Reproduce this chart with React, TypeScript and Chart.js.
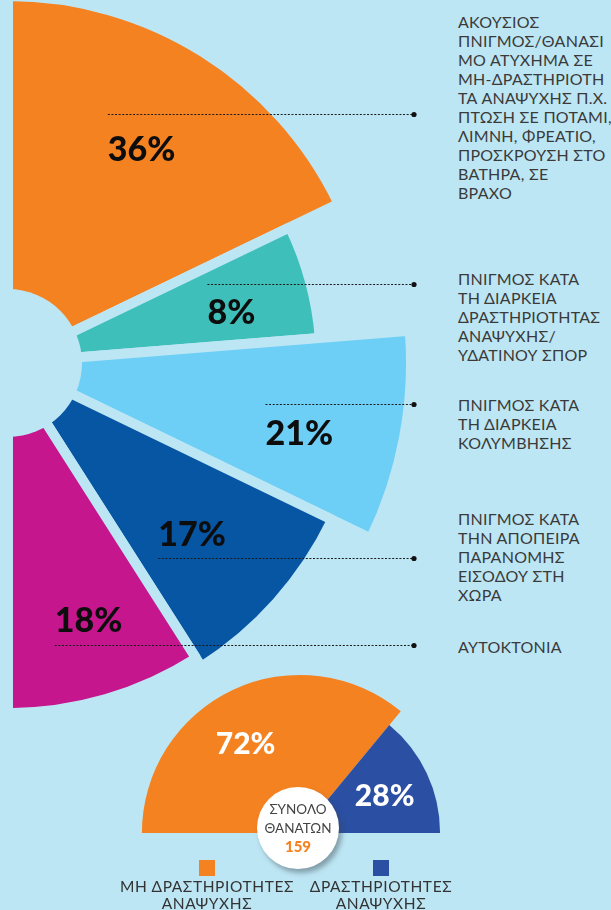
import React, { useEffect, useRef } from 'react';
import { Chart, registerables } from 'chart.js';

Chart.register(...registerables);

// ---------- data ----------
const causeNames: string[][] = [
  ['ΑΚΟΥΣΙΟΣ', 'ΠΝΙΓΜΟΣ/ΘΑΝΑΣΙ', 'ΜΟ ΑΤΥΧΗΜΑ ΣΕ', 'ΜΗ-ΔΡΑΣΤΗΡΙΟΤΗ', 'ΤΑ ΑΝΑΨΥΧΗΣ Π.Χ.', 'ΠΤΩΣΗ ΣΕ ΠΟΤΑΜΙ,', 'ΛΙΜΝΗ, ΦΡΕΑΤΙΟ,', 'ΠΡΟΣΚΡΟΥΣΗ ΣΤΟ', 'ΒΑΤΗΡΑ, ΣΕ', 'ΒΡΑΧΟ'],
  ['ΠΝΙΓΜΟΣ ΚΑΤΑ', 'ΤΗ ΔΙΑΡΚΕΙΑ', 'ΔΡΑΣΤΗΡΙΟΤΗΤΑΣ', 'ΑΝΑΨΥΧΗΣ/', 'ΥΔΑΤΙΝΟΥ ΣΠΟΡ'],
  ['ΠΝΙΓΜΟΣ ΚΑΤΑ', 'ΤΗ ΔΙΑΡΚΕΙΑ', 'ΚΟΛΥΜΒΗΣΗΣ'],
  ['ΠΝΙΓΜΟΣ ΚΑΤΑ', 'ΤΗΝ ΑΠΟΠΕΙΡΑ', 'ΠΑΡΑΝΟΜΗΣ', 'ΕΙΣΟΔΟΥ ΣΤΗ', 'ΧΩΡΑ'],
  ['ΑΥΤΟΚΤΟΝΙΑ'],
];
const causeShares = [36, 8, 21, 17, 18];
// slice sweep (degrees) and slice length (0-100) as drawn in the reference
const causeSweepDeg = [64.3, 21.1, 30.4, 31.7, 32.5];
const causeLength = [89.5, 76.3, 98.3, 87.8, 85.4];

const activityNames: string[][] = [
  ['ΜΗ ΔΡΑΣΤΗΡΙΟΤΗΤΕΣ', 'ΑΝΑΨΥΧΗΣ'],
  ['ΔΡΑΣΤΗΡΙΟΤΗΤΕΣ', 'ΑΝΑΨΥΧΗΣ'],
];
const activityShares = [72, 28];
const activityLength = [93.0, 82.4];
const totalLabel = ['ΣΥΝΟΛΟ', 'ΘΑΝΑΤΩΝ'];
const totalDeaths = 159;

// ---------- styles / layout ----------
const BG = '#bde6f4';
const causeColors = ['#f58220', '#3fbfb9', '#6dcff6', '#0756a4', '#c6168d'];
const activityColors = ['#f58220', '#2b4fa2'];

const MAIN_D = 410; // half size of main canvas
const MAIN_CX = 8;
const MAIN_CY = 363;
const MAIN_LEFT = MAIN_CX - MAIN_D;
const MAIN_TOP = MAIN_CY - MAIN_D;
const HOLE_R = 74;
const DOT_X = 414;
const labelNudge = [[-5, 6], [9, 7], [10, 17], [-7, 1], [11, 18]];
const leaderDy = [-34, -28, -29, 24, 25];
const textTops = [21, 278, 404, 518, 646];

const BOT_D = 170;
const BOT_CX = 300;
const BOT_CY = 833;
const botNudge = [[-10, 5], [1, 2]];

const PCT_FONT = '"Lato", "Open Sans", sans-serif';

const mainDecor = {
  id: 'mainDecor',
  afterDatasetsDraw(chart: any) {
    const ctx = chart.ctx as CanvasRenderingContext2D;
    const s = chart.scales.r;
    ctx.save();
    ctx.fillStyle = BG;
    ctx.beginPath();
    ctx.arc(s.xCenter, s.yCenter, HOLE_R, 0, Math.PI * 2);
    ctx.fill();
    const arcs = chart.getDatasetMeta(0).data;
    const fs = 34;
    ctx.font = `900 ${fs}px ${PCT_FONT}`;
    arcs.forEach((arc: any, i: number) => {
      const p = arc.getProps(['x', 'y', 'startAngle', 'endAngle', 'outerRadius'], true);
      const mid = (p.startAngle + p.endAngle) / 2;
      const r = p.outerRadius * 0.71;
      const lx = p.x + Math.cos(mid) * r + labelNudge[i][0];
      const ly = p.y + Math.sin(mid) * r + labelNudge[i][1];
      const txt = `${causeShares[i]}%`;
      ctx.fillStyle = '#0d0d0d';
      ctx.textAlign = 'center';
      ctx.textBaseline = 'alphabetic';
      ctx.fillText(txt, lx, ly + fs * 0.36);
      const w = ctx.measureText(txt).width;
      const yy = Math.round(ly + leaderDy[i]) + 0.5;
      ctx.strokeStyle = '#1a1a1a';
      ctx.lineWidth = 1;
      ctx.setLineDash([2, 1.6]);
      ctx.beginPath();
      ctx.moveTo(lx - w / 2, yy);
      ctx.lineTo(DOT_X - MAIN_LEFT, yy);
      ctx.stroke();
      ctx.setLineDash([]);
      ctx.fillStyle = '#111';
      ctx.beginPath();
      ctx.arc(DOT_X - MAIN_LEFT, yy, 2.6, 0, Math.PI * 2);
      ctx.fill();
    });
    ctx.restore();
  },
};

const botDecor = {
  id: 'botDecor',
  afterDatasetsDraw(chart: any) {
    const ctx = chart.ctx as CanvasRenderingContext2D;
    const arcs = chart.getDatasetMeta(0).data;
    const fs = 30;
    ctx.save();
    ctx.font = `900 ${fs}px ${PCT_FONT}`;
    ctx.fillStyle = '#ffffff';
    ctx.textAlign = 'center';
    ctx.textBaseline = 'alphabetic';
    arcs.forEach((arc: any, i: number) => {
      const p = arc.getProps(['x', 'y', 'startAngle', 'endAngle', 'outerRadius'], true);
      const mid = (p.startAngle + p.endAngle) / 2;
      const r = p.outerRadius * 0.66;
      const lx = p.x + Math.cos(mid) * r + botNudge[i][0];
      const ly = p.y + Math.sin(mid) * r + botNudge[i][1];
      ctx.fillText(`${activityShares[i]}%`, lx, ly + fs * 0.36);
    });
    ctx.restore();
  },
};

export default function App() {
  const mainRef = useRef<HTMLCanvasElement>(null);
  const botRef = useRef<HTMLCanvasElement>(null);

  useEffect(() => {
    const main = new Chart(mainRef.current as HTMLCanvasElement, {
      type: 'polarArea',
      data: {
        labels: causeNames.map((l) => l.join(' ')),
        datasets: [
          {
            data: causeLength,
            backgroundColor: causeColors,
            borderColor: BG,
            borderWidth: 10,
            angle: (c: any) => causeSweepDeg[c.dataIndex],
          } as any,
        ],
      },
      options: {
        responsive: false,
        animation: false,
        events: [],
        layout: { padding: 0 },
        scales: { r: { display: false, min: 0, max: 100, startAngle: 0, ticks: { display: false } } as any },
        plugins: { legend: { display: false }, tooltip: { enabled: false } },
      },
      plugins: [mainDecor],
    });

    const bot = new Chart(botRef.current as HTMLCanvasElement, {
      type: 'polarArea',
      data: {
        labels: activityNames.map((l) => l.join(' ')),
        datasets: [
          {
            data: activityLength,
            backgroundColor: activityColors,
            borderWidth: 0,
            angle: (c: any) => (activityShares[c.dataIndex] / 100) * 180,
          } as any,
        ],
      },
      options: {
        responsive: false,
        animation: false,
        events: [],
        layout: { padding: 0 },
        scales: { r: { display: false, min: 0, max: 100, startAngle: -90, ticks: { display: false } } as any },
        plugins: { legend: { display: false }, tooltip: { enabled: false } },
      },
      plugins: [botDecor],
    });

    return () => {
      main.destroy();
      bot.destroy();
    };
  }, []);

  const textFont = '"Lato", "Noto Sans", sans-serif';

  return (
    <div
      style={{
        position: 'fixed',
        left: 0,
        top: 0,
        width: 611,
        height: 910,
        overflow: 'hidden',
        background: BG,
        fontFamily: textFont,
      }}
    >
      <canvas
        ref={mainRef}
        width={MAIN_D * 2}
        height={MAIN_D * 2}
        style={{ position: 'absolute', left: MAIN_LEFT, top: MAIN_TOP, width: MAIN_D * 2, height: MAIN_D * 2 }}
      />
      <canvas
        ref={botRef}
        width={BOT_D * 2}
        height={BOT_D * 2}
        style={{ position: 'absolute', left: BOT_CX - BOT_D, top: BOT_CY - BOT_D, width: BOT_D * 2, height: BOT_D * 2 }}
      />
      {causeNames.map((lines, i) => (
        <div
          key={i}
          style={{
            position: 'absolute',
            left: 458,
            top: textTops[i] - 9.5,
            fontSize: 16,
            lineHeight: '19px',
            color: '#3a3a3a',
            whiteSpace: 'nowrap',
            letterSpacing: 0.25,
          }}
        >
          {lines.map((t, j) => (
            <div key={j}>{t}</div>
          ))}
        </div>
      ))}
      <div
        style={{
          position: 'absolute',
          left: 257,
          top: 787,
          width: 82,
          height: 82,
          borderRadius: '50%',
          background: '#ffffff',
          boxShadow: '3px 4px 5px rgba(60,70,80,0.45)',
          display: 'flex',
          flexDirection: 'column',
          alignItems: 'center',
          justifyContent: 'center',
          fontSize: 13.5,
          lineHeight: '18.5px',
          color: '#444',
        }}
      >
        <div>{totalLabel[0]}</div>
        <div>{totalLabel[1]}</div>
        <div style={{ color: '#f58220', fontWeight: 900, fontSize: 15 }}>{totalDeaths}</div>
      </div>
      {activityNames.map((lines, i) => (
        <div
          key={i}
          style={{
            position: 'absolute',
            left: (i === 0 ? 207 : 381) - 110,
            top: 860,
            width: 220,
            display: 'flex',
            flexDirection: 'column',
            alignItems: 'center',
            fontSize: 15.5,
            lineHeight: '17px',
            color: '#333',
            letterSpacing: 0.6,
          }}
        >
          <div style={{ width: 16, height: 16, background: activityColors[i], marginBottom: 2 }} />
          {lines.map((t, j) => (
            <div key={j} style={{ whiteSpace: 'nowrap' }}>{t}</div>
          ))}
        </div>
      ))}
    </div>
  );
}
